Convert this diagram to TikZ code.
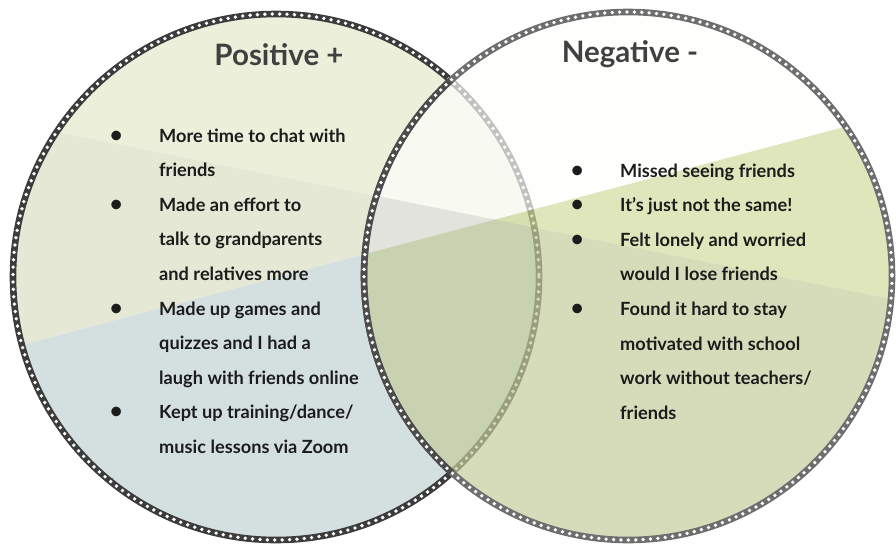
\documentclass[tikz,border=0pt]{standalone}
\usepackage{fontspec}
\setmainfont{Lato}

\definecolor{posTop}{HTML}{ECF0DA}
\definecolor{posBand}{HTML}{E4E8D4}
\definecolor{posLow}{HTML}{D4E0DF}
\definecolor{negTop}{HTML}{FEFEFA}
\definecolor{negBand}{HTML}{D1DB9E}
\definecolor{negLow}{HTML}{C4CC9B}
\definecolor{negSide}{HTML}{E2E2E0}
\definecolor{posRing}{HTML}{3C3C3C}
\definecolor{negRing}{HTML}{6E6E6E}
\definecolor{negRingIn}{HTML}{4C4C4C}
\definecolor{titlegray}{HTML}{404040}
\definecolor{textblack}{HTML}{1C1C1C}

\tikzset{
  ring/.style={line width=6.6pt},
  ringdots/.style={white, line width=3.8pt, dash pattern=on 0pt off 7.4pt, line cap=round},
  heading/.style={anchor=base, inner sep=0pt, text=titlegray, font=\fontsize{29.5}{31}\selectfont\bfseries},
  itemlist/.style={anchor=base west, inner sep=0pt, text=textblack, font=\fontsize{18.2}{34.6}\selectfont\bfseries},
}
\newcommand{\bul}{\makebox[0pt]{\fontsize{22}{22}\selectfont\textbullet}}

\begin{document}
\begin{tikzpicture}[x=1pt,y=-1pt]
    % Definitions:
    \useasboundingbox (0,0) rectangle (896,544);
    \coordinate (p) at (276,277); % Centre of the left circle.
    \coordinate (n) at (628,276); % Centre of the right circle.
    \coordinate (l1w) at (-50,110.6);
    \coordinate (l1e) at (950,310.6);
    \coordinate (l2w) at (-50,364);
    \coordinate (l2e) at (950,99);
    \coordinate (x) at (intersection of l1w--l1e and l2w--l2e);
    % Left circle:
    \begin{scope}
      \clip (p) circle[radius=263];
      \fill[posTop] (l1w) -- (x) -- (l2e) -- (950,-50) -- (-50,-50) -- cycle;
      \fill[posBand] (l1w) -- (x) -- (l2w) -- cycle;
      \fill[posBand] (l2e) -- (x) -- (l1e) -- cycle;
      \fill[posLow] (l2w) -- (x) -- (l1e) -- (950,600) -- (-50,600) -- cycle;
    \end{scope}
    \draw[ring,posRing] (p) circle[radius=263];
    \draw[ringdots] (p) circle[radius=263];
    % Right circle:
    \begin{scope}[fill opacity=0.69]
      \clip (n) circle[radius=264];
      \fill[negTop] (l1w) -- (x) -- (l2e) -- (950,-50) -- (-50,-50) -- cycle;
      \fill[negSide] (l1w) -- (x) -- (l2w) -- cycle;
      \fill[negBand] (l2e) -- (x) -- (l1e) -- cycle;
      \fill[negLow] (l2w) -- (x) -- (l1e) -- (950,600) -- (-50,600) -- cycle;
    \end{scope}
    \draw[ring,negRing] (n) circle[radius=264];
    \draw[ringdots] (n) circle[radius=264];
    \begin{scope}
      \clip (p) circle[radius=263];
      \draw[ring,negRingIn] (n) circle[radius=264];
      \draw[ringdots] (n) circle[radius=264];
    \end{scope}
    % Labels:
    \node[heading] (pos) at (279,65) {Positive +};
    \node[heading] (neg) at (630,62) {Negative -};
    \node[itemlist] (poslist) at (116,142) {\begin{tabular}[t]{@{}l@{\hspace{43pt}}l@{}}
      \bul & More time to chat with\\
           & friends\\
      \bul & Made an effort to\\
           & talk to grandparents\\
           & and relatives more\\
      \bul & Made up games and\\
           & quizzes and I had a\\
           & laugh with friends online\\
      \bul & Kept up training/dance/\\
           & music lessons via Zoom
    \end{tabular}};
    \node[itemlist] (neglist) at (577,177) {\begin{tabular}[t]{@{}l@{\hspace{43pt}}l@{}}
      \bul & Missed seeing friends\\
      \bul & It’s just not the same!\\
      \bul & Felt lonely and worried\\
           & would I lose friends\\
      \bul & Found it hard to stay\\
           & motivated with school\\
           & work without teachers/\\
           & friends
    \end{tabular}};
    \node[text=textblack, font=\fontsize{7}{8}\selectfont, inner sep=0pt, anchor=base] (stray) at (113,479) {.};
\end{tikzpicture}
\end{document}
